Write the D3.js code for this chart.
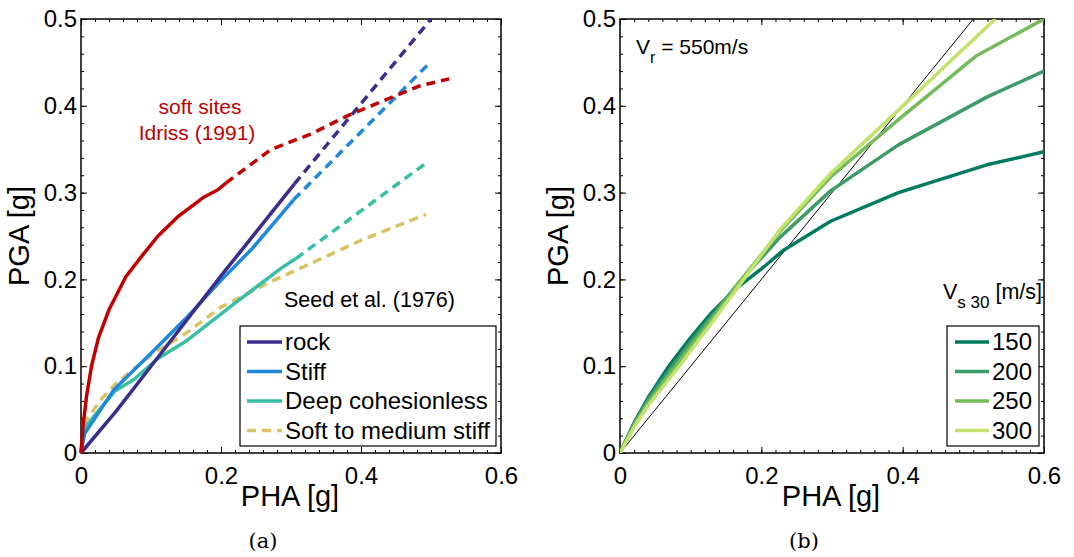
<!DOCTYPE html>
<html>
<head>
<meta charset="utf-8">
<script src="https://cdn.jsdelivr.net/npm/d3@7"></script>
<style>
  body { margin: 0; background: #fff; }
  svg { font-family: "Liberation Sans", Arial, sans-serif; }
  .tick text { font-size: 24px; fill: #000; }
  .tick line { stroke: #000; stroke-width: 1; }
</style>
</head>
<body>
<script>
// ---- data: panel (a), Seed et al. (1976) & Idriss (1991) ----
var rockSolid = [[0, 0], [0.05, 0.048], [0.1, 0.1], [0.2, 0.204], [0.305, 0.31]];
var rockDash = [[0.305, 0.31], [0.5, 0.5]];
var stiffSolid = [[0, 0], [0.005, 0.022], [0.047, 0.073], [0.104, 0.118], [0.151, 0.156], [0.199, 0.198], [0.244, 0.235], [0.304, 0.292]];
var stiffDash = [[0.304, 0.292], [0.495, 0.447]];
var deepSolid = [[0, 0], [0.004, 0.028], [0.048, 0.071], [0.076, 0.085], [0.11, 0.109], [0.152, 0.13], [0.219, 0.172], [0.286, 0.213], [0.307, 0.224]];
var deepDash = [[0.307, 0.224], [0.493, 0.334]];
var softDash = [[0.003, 0.033], [0.03, 0.063], [0.05, 0.08], [0.1, 0.113], [0.15, 0.138], [0.2, 0.168], [0.26, 0.193], [0.3, 0.208], [0.4, 0.245], [0.493, 0.275]];
var idrissSolid = [[0, 0], [0.003, 0.032], [0.008, 0.066], [0.015, 0.1], [0.025, 0.133], [0.04, 0.165], [0.064, 0.203], [0.086, 0.226], [0.11, 0.25], [0.138, 0.272], [0.176, 0.295], [0.195, 0.303], [0.207, 0.311]];
var idrissDash = [[0.207, 0.311], [0.272, 0.35], [0.327, 0.367], [0.382, 0.389], [0.433, 0.406], [0.484, 0.423], [0.526, 0.431]];

// ---- data: panel (b), Vr = 550 m/s ----
var vs30 = ["150", "200", "250", "300"];
var vs150 = [[0, 0], [0.02, 0.035], [0.04, 0.064], [0.069, 0.1], [0.1, 0.133], [0.13, 0.162], [0.165, 0.19], [0.2, 0.212], [0.232, 0.234], [0.298, 0.267], [0.394, 0.3], [0.519, 0.332], [0.6, 0.347]];
var vs200 = [[0, 0], [0.02, 0.034], [0.04, 0.062], [0.074, 0.1], [0.1, 0.128], [0.13, 0.158], [0.17, 0.198], [0.227, 0.249], [0.298, 0.302], [0.394, 0.355], [0.519, 0.41], [0.6, 0.44]];
var vs250 = [[0, 0], [0.02, 0.032], [0.04, 0.058], [0.079, 0.1], [0.1, 0.123], [0.13, 0.154], [0.172, 0.2], [0.227, 0.256], [0.298, 0.318], [0.394, 0.384], [0.505, 0.458], [0.6, 0.5]];
var vs300 = [[0, 0], [0.02, 0.03], [0.04, 0.055], [0.084, 0.1], [0.1, 0.118], [0.13, 0.15], [0.175, 0.2], [0.227, 0.258], [0.298, 0.322], [0.394, 0.395], [0.531, 0.5]];
var oneToOne = [[0, 0], [0.5, 0.5]];

var xTicks = [0, 0.2, 0.4, 0.6];
var yTicks = [0, 0.1, 0.2, 0.3, 0.4, 0.5];

var W = 1074, H = 557;
var yTop = 19, yBot = 453;

var svg = d3.select("body").append("svg").attr("width", W).attr("height", H);

var line = d3.line();

function panel(x0, x1, caption) {
  var x = d3.scaleLinear().domain([0, 0.6]).range([x0, x1]);
  var y = d3.scaleLinear().domain([0, 0.5]).range([yBot, yTop]);
  var g = svg.append("g");
  var minorX = d3.range(0, 0.6001, 0.02), minorY = d3.range(0, 0.5001, 0.02);
  var fmt = function (d) { return d === 0 ? "0" : d3.format(".1f")(d); };

  // minor ticks
  g.append("g").attr("transform", "translate(0," + yBot + ")")
    .call(d3.axisBottom(x).tickValues(minorX).tickSize(-3).tickFormat(""));
  g.append("g").attr("transform", "translate(0," + yTop + ")")
    .call(d3.axisTop(x).tickValues(minorX).tickSize(-3).tickFormat(""));
  g.append("g").attr("transform", "translate(" + x0 + ",0)")
    .call(d3.axisLeft(y).tickValues(minorY).tickSize(-3).tickFormat(""));
  g.append("g").attr("transform", "translate(" + x1 + ",0)")
    .call(d3.axisRight(y).tickValues(minorY).tickSize(-3).tickFormat(""));
  // major ticks
  g.append("g").attr("transform", "translate(0," + yBot + ")")
    .call(d3.axisBottom(x).tickValues(xTicks).tickSize(-6).tickPadding(14).tickFormat(fmt));
  g.append("g").attr("transform", "translate(0," + yTop + ")")
    .call(d3.axisTop(x).tickValues(xTicks).tickSize(-6).tickFormat(""));
  g.append("g").attr("transform", "translate(" + x0 + ",0)")
    .call(d3.axisLeft(y).tickValues(yTicks).tickSize(-6).tickPadding(4).tickFormat(fmt));
  g.append("g").attr("transform", "translate(" + x1 + ",0)")
    .call(d3.axisRight(y).tickValues(yTicks).tickSize(-6).tickFormat(""));
  g.selectAll(".domain").remove();

  // axis box
  g.append("rect").attr("x", x0).attr("y", yTop).attr("width", x1 - x0).attr("height", yBot - yTop)
    .attr("fill", "none").attr("stroke", "#000").attr("stroke-width", 1.5);

  // axis titles
  g.append("text").attr("x", (x0 + x1) / 2 - 1).attr("y", 506).attr("text-anchor", "middle")
    .attr("font-size", 29).text("PHA [g]");
  g.append("text").attr("transform", "translate(" + (x0 - 52) + "," + ((yTop + yBot) / 2) + ") rotate(-90)")
    .attr("text-anchor", "middle").attr("font-size", 29).text("PGA [g]");
  g.append("text").attr("x", (x0 + x1) / 2 - 28).attr("y", 548).attr("text-anchor", "middle")
    .attr("font-family", "'DejaVu Serif', serif").attr("font-size", 21).text(caption);

  line.x(function (d) { return x(d[0]); }).y(function (d) { return y(d[1]); });
  return { g: g, x: x, y: y };
}

function draw(g, pts, color, dashed, width) {
  g.append("path").attr("d", line(pts)).attr("fill", "none").attr("stroke", color)
    .attr("stroke-width", width || 3.5).attr("stroke-linejoin", "round")
    .attr("stroke-dasharray", dashed ? "9,6" : null);
}

// ---------- panel (a) ----------
var a = panel(81, 501, "(a)");
var cRock = "#3a2d8c", cStiff = "#1f87dd", cDeep = "#38bfa3", cSoft = "#dbc262", cRed = "#c00000";
draw(a.g, softDash, cSoft, true);
draw(a.g, deepSolid, cDeep, false);
draw(a.g, deepDash, cDeep, true);
draw(a.g, stiffSolid, cStiff, false);
draw(a.g, stiffDash, cStiff, true);
draw(a.g, rockSolid, cRock, false);
draw(a.g, rockDash, cRock, true);
draw(a.g, idrissSolid, cRed, false);
draw(a.g, idrissDash, cRed, true);

a.g.append("text").attr("x", 200).attr("y", 114).attr("text-anchor", "middle")
  .attr("font-size", 21).attr("fill", cRed).text("soft sites");
a.g.append("text").attr("x", 197).attr("y", 140).attr("text-anchor", "middle")
  .attr("font-size", 21).attr("fill", cRed).text("Idriss (1991)");
a.g.append("text").attr("x", 284).attr("y", 307).attr("font-size", 21.5).text("Seed et al. (1976)");

var legA = [
  { name: "rock", color: cRock, dash: false },
  { name: "Stiff", color: cStiff, dash: false },
  { name: "Deep cohesionless", color: cDeep, dash: false },
  { name: "Soft to medium stiff", color: cSoft, dash: true }
];
var lgA = a.g.append("g");
lgA.append("rect").attr("x", 240).attr("y", 326).attr("width", 256).attr("height", 120)
  .attr("fill", "#fff").attr("stroke", "#000").attr("stroke-width", 1.2);
legA.forEach(function (d, i) {
  var yy = 342 + i * 29.5;
  lgA.append("line").attr("x1", 247).attr("x2", 282).attr("y1", yy).attr("y2", yy)
    .attr("stroke", d.color).attr("stroke-width", 3.5).attr("stroke-dasharray", d.dash ? "9,6" : null);
  lgA.append("text").attr("x", 285).attr("y", yy + 8).attr("font-size", 24).text(d.name);
});

// ---------- panel (b) ----------
var b = panel(620, 1044, "(b)");
var greens = ["#007b5f", "#3c9b66", "#74bb5c", "#c3e26b"];
svg.append("clipPath").attr("id", "clipb").append("rect")
  .attr("x", 620).attr("y", yTop).attr("width", 424).attr("height", yBot - yTop);
var bl = b.g.append("g").attr("clip-path", "url(#clipb)");
draw(bl, oneToOne, "#000", false, 1);
[vs150, vs200, vs250, vs300].forEach(function (s, i) { draw(bl, s, greens[i], false, 3.5); });

var vr = b.g.append("text").attr("x", 636).attr("y", 54).attr("font-size", 21);
vr.append("tspan").text("V");
vr.append("tspan").attr("dy", 9).attr("font-size", 16).text("r");
vr.append("tspan").attr("dy", -9).text(" = 550m/s");

var vs = b.g.append("text").attr("x", 943).attr("y", 299).attr("font-size", 21.5);
vs.append("tspan").text("V");
vs.append("tspan").attr("dy", 9).attr("font-size", 17).text("s 30");
vs.append("tspan").attr("dy", -9).text(" [m/s]");

var lgB = b.g.append("g");
lgB.append("rect").attr("x", 947).attr("y", 326).attr("width", 92).attr("height", 120)
  .attr("fill", "#fff").attr("stroke", "#000").attr("stroke-width", 1.2);
vs30.forEach(function (d, i) {
  var yy = 342 + i * 29.5;
  lgB.append("line").attr("x1", 955).attr("x2", 989).attr("y1", yy).attr("y2", yy)
    .attr("stroke", greens[i]).attr("stroke-width", 3.5);
  lgB.append("text").attr("x", 992).attr("y", yy + 8).attr("font-size", 24).text(d);
});
</script>
</body>
</html>
